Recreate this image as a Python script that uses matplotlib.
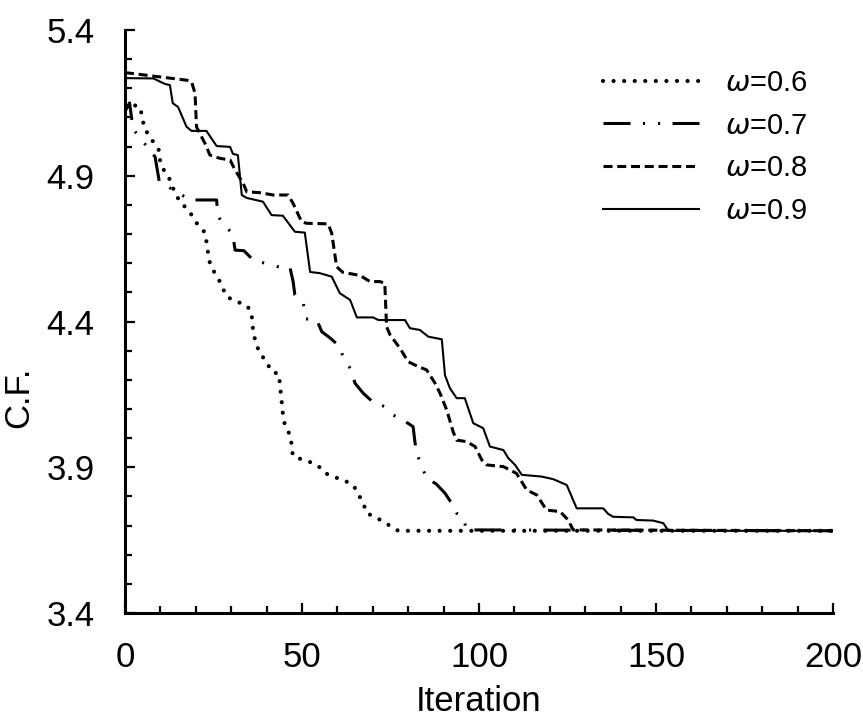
import matplotlib.pyplot as plt
from matplotlib.ticker import MultipleLocator, FixedLocator

plt.rcParams["font.family"] = ["Liberation Sans", "DejaVu Sans"]
plt.rcParams["mathtext.fontset"] = "dejavusans"
plt.rcParams["lines.scale_dashes"] = False

# Convergence curves (iteration, C.F.)
it6 = [0, 4.2, 5, 5.4, 7.1, 8.5, 9.7, 9.9, 10.4, 12.5, 13.6, 15.5, 17.9, 20.3, 22.6, 23.1,
       23.5, 24, 25.4, 26.8, 28.7, 31.6, 34.2, 35.6, 36, 36.2, 37, 38.1, 40, 41.4, 43.5,
       43.8, 44.1, 44.4, 44.7, 45.4, 46.6, 47.1, 47.4, 49.9, 52.7, 54.8, 56.3, 58.8, 61.7,
       64.5, 65.9, 67.3, 68.3, 70.6, 73, 75.3, 77.2, 200]
cf6 = [5.15, 5.137, 5.097, 5.063, 5.034, 5.005, 4.986, 4.954, 4.931, 4.891, 4.857, 4.81,
       4.783, 4.737, 4.705, 4.668, 4.634, 4.6, 4.565, 4.537, 4.485, 4.468, 4.457, 4.436, 4.4,
       4.365, 4.325, 4.291, 4.262, 4.228, 4.22, 4.182, 4.145, 4.11, 4.071, 4.034, 4.013,
       3.976, 3.939, 3.927, 3.916, 3.902, 3.881, 3.868, 3.856, 3.839, 3.808, 3.777, 3.742,
       3.73, 3.713, 3.696, 3.682, 3.682]

it7 = [0, 1.3, 2.3, 8.5, 9.7, 18.4, 25.9, 26.2, 27.8, 30.4, 31.1, 33.6, 36.2, 39.5, 43.3,
       46.6, 47.5, 48, 50.4, 51.1, 54.2, 55.6, 58.1, 60.7, 61.7, 63.6, 65, 67.3, 70, 73.4,
       75.8, 78.6, 81.4, 81.9, 82.4, 85.2, 87.9, 90.4, 92.3, 93.7, 95.1, 96, 96.5, 200]
cf7 = [5.12, 5.15, 5.06, 4.965, 4.88, 4.817, 4.817, 4.765, 4.731, 4.703, 4.645, 4.643,
       4.611, 4.6, 4.588, 4.586, 4.537, 4.491, 4.46, 4.409, 4.405, 4.365, 4.342, 4.314,
       4.274, 4.24, 4.188, 4.154, 4.124, 4.108, 4.079, 4.062, 4.039, 3.988, 3.948, 3.862,
       3.843, 3.811, 3.776, 3.742, 3.736, 3.708, 3.685, 3.682]

it8 = [0, 17.4, 18.8, 19.8, 20.2, 22.6, 24, 26.8, 29.7, 31.1, 33.4, 34.4, 38.1, 41.9, 46.1,
       47.5, 49.9, 51.3, 57.4, 58.4, 59.8, 61.5, 66.4, 69.2, 72, 73.4, 73.9, 74.9, 77.7, 80,
       82.9, 85.2, 87.6, 89, 90.9, 92.7, 93.7, 96.5, 98.9, 100.8, 102.2, 106.9, 110.6,
       113.5, 116.3, 119.1, 122.9, 125.2, 126.6, 200]
cf8 = [5.254, 5.228, 5.223, 5.183, 5.068, 5.011, 4.971, 4.96, 4.954, 4.92, 4.874, 4.845,
       4.842, 4.834, 4.834, 4.805, 4.742, 4.737, 4.735, 4.703, 4.588, 4.569, 4.558, 4.537,
       4.537, 4.531, 4.382, 4.354, 4.308, 4.262, 4.245, 4.234, 4.188, 4.154, 4.096, 4.022,
       3.993, 3.988, 3.971, 3.925, 3.908, 3.902, 3.879, 3.822, 3.805, 3.753, 3.748, 3.719,
       3.685, 3.682]

it9 = [0, 8, 11.3, 12.7, 13.5, 15, 17.4, 18.8, 23, 25.9, 29.7, 30.5, 31.9, 33, 34.4, 39,
       41.4, 44.6, 48, 50.8, 52.3, 55, 58.4, 60.7, 63.6, 65.5, 70.1, 71.6, 79.1, 80.5, 83.3,
       85.7, 89.5, 90.4, 91.8, 93.7, 96, 98.4, 101.2, 103.1, 106.9, 108.3, 110.2, 112.1,
       117.7, 121, 124.8, 127.6, 135.1, 136.5, 137.9, 143.6, 144.5, 149.2, 152.1, 153.5, 200]
cf9 = [5.235, 5.234, 5.215, 5.211, 5.149, 5.136, 5.068, 5.054, 5.054, 5.002, 4.999, 4.975,
       4.971, 4.834, 4.824, 4.811, 4.765, 4.763, 4.708, 4.705, 4.57, 4.566, 4.554, 4.497,
       4.474, 4.414, 4.414, 4.405, 4.405, 4.377, 4.371, 4.348, 4.339, 4.216, 4.171, 4.137,
       4.137, 4.051, 4.034, 3.971, 3.959, 3.931, 3.908, 3.874, 3.868, 3.859, 3.839, 3.759,
       3.759, 3.74, 3.73, 3.728, 3.719, 3.717, 3.708, 3.682, 3.682]

labels = [r"$\omega$=0.6", r"$\omega$=0.7", r"$\omega$=0.8", r"$\omega$=0.9"]
y_ticks = [3.4, 3.9, 4.4, 4.9, 5.4]

fig = plt.figure(figsize=(8.63, 7.22), dpi=100)
ax = fig.add_axes([0.1448, 0.151, 0.8204, 0.8074])

ax.plot(it6, cf6, color="black", lw=3.0, linestyle=(0, (0.01, 7.6)),
        dash_capstyle="round", label=labels[0])
ax.plot(it7, cf7, color="black", lw=2.2, linestyle=(0, (19.5, 8.9, 1.5, 9.4, 1.5, 8.9)),
        label=labels[1])
ax.plot(it8, cf8, color="black", lw=2.2, linestyle=(0, (6.5, 3.4)), label=labels[2])
ax.plot(it9, cf9, color="black", lw=1.5, label=labels[3])

ax.set_xlim(0, 200)
ax.set_ylim(3.4, 5.4)
ax.xaxis.set_major_locator(MultipleLocator(50))
ax.xaxis.set_minor_locator(MultipleLocator(10))
ax.yaxis.set_major_locator(FixedLocator(y_ticks))
ax.yaxis.set_minor_locator(MultipleLocator(0.1))

for side in ["top", "right"]:
    ax.spines[side].set_visible(False)
for side in ["left", "bottom"]:
    ax.spines[side].set_linewidth(2.2)

ax.tick_params(axis="both", which="major", direction="in", length=7, width=1.6, labelsize=25)
ax.tick_params(axis="both", which="minor", direction="in", length=5, width=1.6)
ax.tick_params(axis="x", which="major", pad=20)
ax.tick_params(axis="y", which="major", pad=22)

ax.set_xlabel("Iteration", fontsize=25)
ax.set_ylabel("C.F.", fontsize=25)
ax.xaxis.set_label_coords(0.5, -0.124)
ax.yaxis.set_label_coords(-0.127, 0.37)

ax.legend(loc="upper left", bbox_to_anchor=(0.675, 0.933), frameon=False, fontsize=21,
          handlelength=3.3, handletextpad=0.9, labelspacing=0.5, borderpad=0,
          borderaxespad=0)

plt.savefig("out.png", dpi=100)
